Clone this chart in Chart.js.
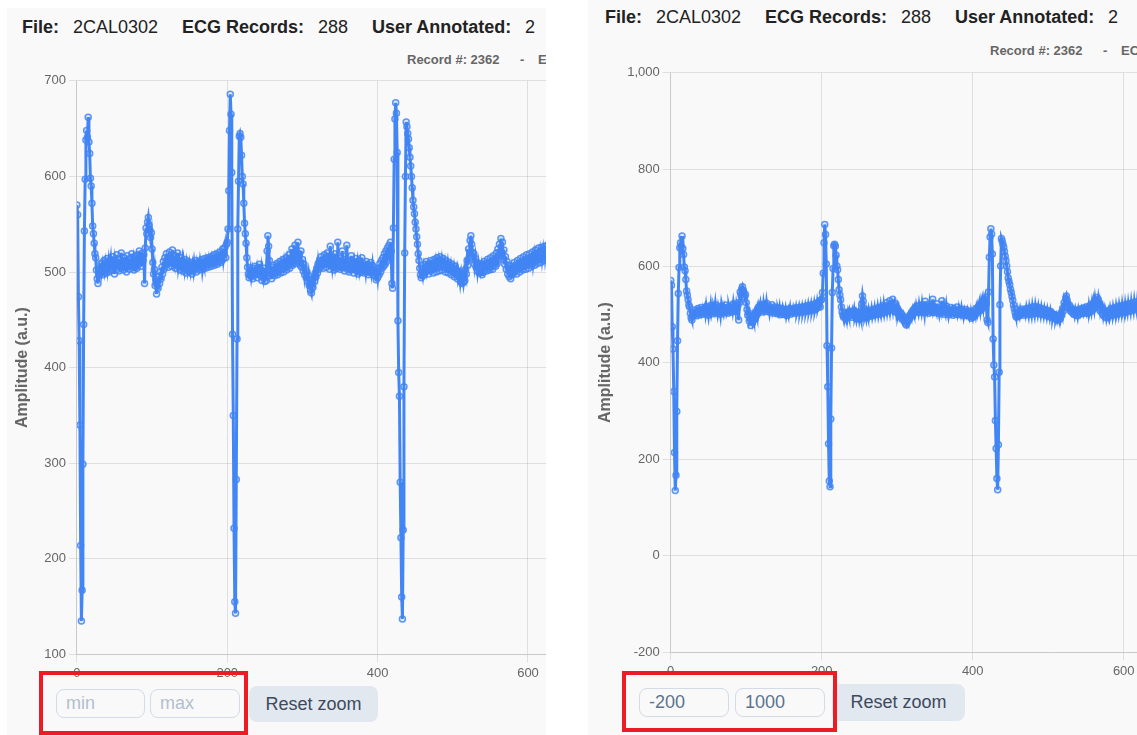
<!DOCTYPE html>
<html>
<head>
<meta charset="utf-8">
<script src="https://cdn.jsdelivr.net/npm/chart.js@4.4.1/dist/chart.umd.min.js"></script>
<style>
  html, body { margin: 0; padding: 0; background: #fff; }
  body { width: 1137px; height: 735px; position: relative; overflow: hidden;
         font-family: "Liberation Sans", Arial, sans-serif; }
  .panel { position: absolute; background: #f9f9f9; overflow: hidden; }
  .stage { position: absolute; width: 1500px; height: 800px; }
  .stage > * { position: absolute; }
  .hd { font-size: 18px; line-height: 20px; color: #222; white-space: nowrap; }
  .hd b { color: #111; }
  .rec { font-size: 13px; line-height: 16px; font-weight: bold; color: #666; white-space: nowrap; }
  .zoom-in { box-sizing: border-box; border: 1.5px solid #d3dbe6; border-radius: 8px;
             background: #f9f9f9; font: 18px "Liberation Sans", Arial, sans-serif;
             color: #5b7392; padding: 0 0 0 9px; outline: none; }
  .zoom-in::placeholder { color: #b3bfcd; }
  .reset { box-sizing: border-box; border: none; border-radius: 8px; background: #e2e8f0;
           color: #3d4a5c; font: 18px "Liberation Sans", Arial, sans-serif; padding: 0; }
  .mark { box-sizing: border-box; border: 4.5px solid #ed1c24; }
</style>
</head>
<body>

<div class="panel" style="left:7px; top:8px; width:539px; height:727px;">
  <div class="stage" style="left:-7px; top:-8px;">
    <b class="hd" style="left:22px; top:17px;">File:</b>
    <span class="hd" style="left:73px; top:17px;">2CAL0302</span>
    <b class="hd" style="left:182px; top:17px;">ECG Records:</b>
    <span class="hd" style="left:318px; top:17px;">288</span>
    <b class="hd" style="left:372px; top:17px;">User Annotated:</b>
    <span class="hd" style="left:525px; top:17px;">2</span>
    <span class="rec" style="left:407px; top:52px;">Record #: 2362</span>
    <span class="rec" style="left:520px; top:52px;">-</span>
    <span class="rec" style="left:538px; top:52px;">ECG</span>
    <canvas id="leftChart" width="839" height="614" style="left:9px; top:70px;"></canvas>
    <input class="zoom-in" style="left:56px; top:689px; width:89px; height:29px;" placeholder="min">
    <input class="zoom-in" style="left:150px; top:689px; width:90px; height:29px;" placeholder="max">
    <button class="reset" style="left:249px; top:686px; width:129px; height:36px;">Reset zoom</button>
    <div class="mark" style="left:39px; top:671px; width:209px; height:64px;"></div>
  </div>
</div>

<div class="panel" style="left:588px; top:0px; width:549px; height:735px;">
  <div class="stage" style="left:-588px; top:0px;">
    <b class="hd" style="left:605px; top:7px;">File:</b>
    <span class="hd" style="left:656px; top:7px;">2CAL0302</span>
    <b class="hd" style="left:765px; top:7px;">ECG Records:</b>
    <span class="hd" style="left:901px; top:7px;">288</span>
    <b class="hd" style="left:955px; top:7px;">User Annotated:</b>
    <span class="hd" style="left:1108px; top:7px;">2</span>
    <span class="rec" style="left:990px; top:43px;">Record #: 2362</span>
    <span class="rec" style="left:1103px; top:43px;">-</span>
    <span class="rec" style="left:1121px; top:43px;">ECG</span>
    <canvas id="rightChart" width="853" height="620" style="left:592px; top:62px;"></canvas>
    <input class="zoom-in" style="left:639px; top:688px; width:90px; height:29px;" value="-200">
    <input class="zoom-in" style="left:735px; top:688px; width:90px; height:29px;" value="1000">
    <button class="reset" style="left:832px; top:684px; width:133px; height:37px;">Reset zoom</button>
    <div class="mark" style="left:622px; top:671px; width:215px; height:61px;"></div>
  </div>
</div>

<script>
// ECG amplitude, one value per sample (sample index = position in the array)
const amplitude = [
  // 0-29 tail of beat 1
  570,560,474,428,340,214,135,167,299,445,543,597,638,648,641,662,636,624,598,590,
  572,548,540,530,519,515,502,493,488,497,
  // 30-88
  503,498,509,501,506,497,512,503,508,499,514,504,510,500,507,513,502,516,505,509,
  498,511,506,518,503,510,501,513,507,520,504,511,502,515,508,512,500,517,506,510,
  503,514,507,519,505,511,502,516,509,513,504,518,508,522,511,515,506,520,512,
  // 89-112
  518,488,525,546,540,552,557,549,544,536,541,524,510,498,503,486,492,477,489,483,
  495,488,500,493,
  // 113-199
  505,498,511,503,515,507,519,509,514,505,521,510,516,506,523,512,509,517,504,513,
  508,520,506,511,502,515,507,512,501,510,504,513,499,508,503,511,500,507,502,510,
  498,506,501,509,503,512,500,508,504,511,502,510,505,513,503,509,506,514,504,511,
  507,515,505,512,508,516,506,513,509,518,507,514,510,519,508,515,511,521,510,517,
  512,524,514,520,526,515,529,
  // 200-232 beat 2
  531,545,585,648,686,665,604,435,350,232,155,143,283,430,545,595,642,645,641,622,
  600,592,572,551,540,530,515,505,498,494,497,502,495,
  // 233-300
  500,493,504,497,506,499,503,494,505,498,508,496,502,491,500,495,504,490,498,491,
  522,538,527,512,496,502,493,505,498,507,496,503,499,509,497,505,501,511,499,507,
  503,513,500,509,504,515,502,511,506,518,504,513,508,524,507,516,510,528,509,518,
  512,531,511,519,507,522,505,513,
  // 301-330
  501,508,497,503,494,500,490,496,486,492,481,478,488,484,494,490,499,495,504,499,
  509,503,512,505,516,507,511,504,518,508,
  // 331-415
  513,505,520,509,514,503,527,510,516,506,512,502,519,508,513,504,531,509,515,503,
  511,505,522,507,513,501,509,504,528,506,512,500,510,503,517,505,511,499,508,502,
  514,504,509,498,512,503,508,500,515,502,509,499,507,501,511,500,508,497,506,499,
  510,501,507,498,505,496,503,492,500,494,504,497,509,500,512,504,515,506,519,508,
  522,511,525,514,528,
  // 416-460 beat 3
  518,531,522,488,483,546,618,660,677,666,625,449,395,370,280,222,160,137,230,380,
  520,600,657,652,645,639,630,620,611,600,588,575,568,561,552,545,537,529,519,512,
  504,497,494,500,496,
  // 461-630
  503,497,508,500,511,502,506,498,509,501,512,503,507,499,513,504,509,500,515,505,
  510,501,516,506,511,502,514,505,509,500,512,503,508,499,510,502,506,497,508,500,
  504,495,506,498,502,493,500,495,498,490,496,488,494,489,497,491,503,498,512,507,
  524,515,533,538,529,521,513,519,508,514,505,510,501,507,499,509,502,506,497,508,
  500,511,503,509,501,513,504,510,502,515,505,511,503,517,507,514,506,520,509,524,
  513,529,517,535,521,531,514,523,508,516,503,511,498,507,495,504,493,502,497,506,
  499,510,501,507,498,512,503,509,500,514,504,511,502,516,506,512,503,518,507,513,
  504,519,508,515,506,521,510,516,507,523,511,518,509,525,513,519,510,526,515,521,
  512,527,516,522,514,528,517,523,515,526
];

const xTicks = [0, 200, 400, 600, 800, 1000];
const leftYTicks = [100, 200, 300, 400, 500, 600, 700];
const rightYTicks = [-200, 0, 200, 400, 600, 800, 1000];

Chart.defaults.font.family = '"Liberation Sans", Arial, sans-serif';
Chart.defaults.color = "#666";

const lineBlue = "rgb(66, 133, 244)";

function ecgChart(canvasId, yTicks) {
    const points = amplitude.map((v, i) => ({ x: i, y: v }));
    return new Chart(document.getElementById(canvasId), {
        type: "line",
        data: {
            datasets: [
                {
                    data: points,
                    borderColor: lineBlue,
                    borderWidth: 3,
                    tension: 0,
                    pointRadius: 3,
                    pointBorderWidth: 1.5,
                    pointBorderColor: "rgba(66, 133, 244, 0.85)",
                    pointBackgroundColor: "rgba(66, 133, 244, 0.15)",
                },
            ],
        },
        options: {
            responsive: false,
            animation: false,
            events: [],
            layout: { padding: 0 },
            plugins: {
                legend: { display: false },
                tooltip: { enabled: false },
            },
            scales: {
                x: {
                    type: "linear",
                    min: xTicks[0],
                    max: xTicks[xTicks.length - 1],
                    ticks: { stepSize: xTicks[1] - xTicks[0], font: { size: 13 }, maxRotation: 0 },
                },
                y: {
                    min: yTicks[0],
                    max: yTicks[yTicks.length - 1],
                    ticks: { stepSize: yTicks[1] - yTicks[0], font: { size: 13 } },
                    title: {
                        display: true,
                        text: "Amplitude (a.u.)",
                        font: { size: 16, weight: "bold" },
                        padding: { top: 4, bottom: 9 },
                    },
                },
            },
        },
    });
}

ecgChart("leftChart", leftYTicks);
ecgChart("rightChart", rightYTicks);
</script>
</body>
</html>
